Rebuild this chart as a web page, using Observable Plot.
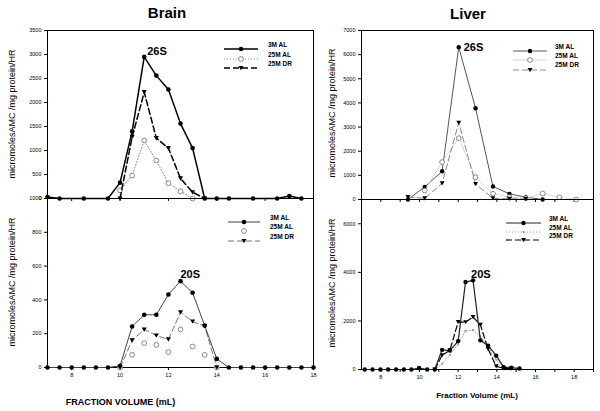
<!DOCTYPE html>
<html><head><meta charset="utf-8">
<script src="https://cdn.jsdelivr.net/npm/d3@7"></script>
<script src="https://cdn.jsdelivr.net/npm/@observablehq/plot@0.6"></script>
<style>
body{margin:0;background:#fff;}
#wrap{position:relative;width:600px;height:411px;overflow:hidden;font-family:"Liberation Sans",Arial,sans-serif;background:#fff;}
#wrap > svg{position:absolute;left:0;top:0;}
.t{position:absolute;white-space:nowrap;color:#000;line-height:1;}
.lg{position:absolute;}
</style></head><body><div id="wrap"></div><script>
// ---------- DATA ----------
// Brain 26S
const brainX26_3M = [7,7.5,8.5,9.5,10,10.5,11,11.5,12,12.5,13,13.5,14,14.5,15.5,16.5,17,17.5];
const brain26_3M  = [30,0,0,0,330,1400,2950,2560,2270,1560,1050,0,0,0,0,0,50,0];
const brainX26_AL = [10,10.5,11,11.5,12,12.5,13];
const brain26_AL  = [170,480,1210,790,320,150,0];
const brainX26_DR = [10,10.5,11,11.5,12,12.5,13,13.5];
const brain26_DR  = [0,1280,2215,1257,1050,420,130,0];
// Brain 20S
const brainX20_3M = [7,7.5,8,8.5,9,9.5,10,10.5,11,11.5,12,12.5,13,13.5,14,14.5,15,15.5,16,16.5,17,17.5,18];
const brain20_3M  = [0,0,0,0,0,0,10,243,312,312,432,511,442,248,51,0,0,0,0,0,0,0,0];
const brainX20_25 = [10,10.5,11,11.5,12,12.5,13,13.5,14];
const brain20_AL  = [0,75,144,134,91,225,124,75,0];
const brain20_DR  = [0,160,225,189,166,327,272,245,0];
// Liver 26S
const liverX26_3M = [9.4,10.27,11.17,12.03,12.9,13.8,14.65,15.5,16.37];
const liver26_3M  = [0,520,1170,6310,3780,540,235,95,0];
const liverX26_AL = [10.27,11.17,12.03,12.9,13.8,14.65,15.5,16.37,17.23,18.1];
const liver26_AL  = [370,1550,2540,925,235,100,50,250,95,0];
const liverX26_DR = [9.4,10.27,11.17,12.03,12.9,13.8,14.65,15.5];
const liver26_DR  = [100,50,670,3180,640,50,30,20];
// Liver 20S
const liverX20_3M = [7.17,7.57,7.98,8.38,8.79,9.19,9.58,9.98,10.4,10.79,11.17,11.57,12.0,12.38,12.77,13.15,13.55,13.97,14.35,14.75,15.17];
const liver20_3M  = [0,0,0,0,0,0,0,60,0,0,810,780,1170,3600,3670,1200,980,570,95,75,40];
const liverX20_AL = [10.79,11.17,11.57,12.0,12.38,12.77,13.15,13.55,13.97,14.35];
const liver20_AL  = [0,240,600,1050,1590,1620,1360,900,400,100];
const liverX20_DR = [10.79,11.17,11.57,12.0,12.38,12.77,13.15,13.55,13.97,14.35,14.75];
const liver20_DR  = [0,590,790,1960,1950,2160,1840,840,130,50,40];
// Ticks & labels
const brainTopYTicks = [0,500,1000,1500,2000,2500,3000,3500];
const brainBotYTicks = [0,200,400,600,800,1000];
const liverTopYTicks = [0,1000,2000,3000,4000,5000,6000,7000];
const liverBotYTicks = [0,2000,4000,6000];
const brainXTicks = [8,10,12,14,16,18];
const liverXTicks = [8,10,12,14,16,18];
const liverXMinor = [8,9,10,11,12,13,14,15,16,17,18,19];
const seriesNames = ["3M AL","25M AL","25M DR"];
const titles = ["Brain","Liver"];
const xLabels = ["FRACTION VOLUME (mL)","Fraction Volume (mL)"];
const yLabel = "micromolesAMC /mg protein/HR";
const peakLabels = ["26S","20S"];

// ---------- HELPERS ----------
const rows = (xs, ys) => xs.map((x, i) => ({x, y: ys[i]}));
const triDown = {draw(ctx, size) {
  const r = Math.sqrt(size / Math.PI);
  const w = r * 1.15, h = r * 0.95;
  ctx.moveTo(-w, -h); ctx.lineTo(w, -h); ctx.lineTo(0, h * 1.1); ctx.closePath();
}};
const FONT = '"Liberation Sans", Arial, sans-serif';
const wrap = document.getElementById("wrap");

function seriesMarks(data, s) {
  const m = [];
  if (s.line) m.push(Plot.line(data, {x: "x", y: "y", stroke: s.line, strokeWidth: s.lw ?? 1, strokeDasharray: s.dash}));
  m.push(Plot.dot(data, {x: "x", y: "y", symbol: s.symbol, r: s.r ?? 2.4, fill: s.fill, stroke: s.stroke ?? "none", strokeWidth: s.sw ?? 1}));
  return m;
}

function panel(o) {
  const marks = [Plot.frame({stroke: "#000", strokeWidth: 1})];
  if (o.minor) marks.push(Plot.tickX(o.minor, {x: d => d, y1: o.yDomain[0], y2: o.yDomain[0], stroke: "none"}));
  for (const [data, s] of o.series) marks.push(...seriesMarks(data, s));
  if (o.peak) marks.push(Plot.text(o.peak.data, Plot.selectMaxY({x: "x", y: "y", text: () => o.peak.label,
    textAnchor: "start", dx: o.peak.dx, dy: o.peak.dy, fontSize: 11, fontWeight: "bold", fill: "#000"})));
  const svg = Plot.plot({
    width: 600, height: 411,
    marginLeft: o.left, marginRight: 600 - o.right, marginTop: o.top, marginBottom: 411 - o.bottom,
    x: {domain: o.xDomain, ticks: o.xTicks, tickSize: 3, tickPadding: 3, label: null,
        tickFormat: o.xText ? (d => String(d)) : (() => "")},
    y: {domain: o.yDomain, ticks: o.yTicks, tickSize: 3, tickPadding: 3, label: null, tickFormat: d => String(d)},
    style: {background: "transparent", fontFamily: FONT, fontSize: "5.5px", color: "#000", overflow: "visible"},
    marks
  });
  wrap.appendChild(svg);
}

function legend(items, x0, x1, labelX, ys) {
  items.forEach((s, i) => {
    const w = x1 - x0, y = ys[i];
    const d = document.createElement("div");
    d.className = "lg";
    d.style.left = x0 + "px"; d.style.top = (y - 5) + "px";
    const ns = "http://www.w3.org/2000/svg";
    const sv = document.createElementNS(ns, "svg");
    sv.setAttribute("width", w); sv.setAttribute("height", 10);
    if (s.line) {
      const ln = document.createElementNS(ns, "line");
      ln.setAttribute("x1", 0); ln.setAttribute("x2", w); ln.setAttribute("y1", 5); ln.setAttribute("y2", 5);
      ln.setAttribute("stroke", s.line); ln.setAttribute("stroke-width", s.lw ?? 1);
      if (s.dash) ln.setAttribute("stroke-dasharray", s.dash);
      sv.appendChild(ln);
    }
    const g = document.createElementNS(ns, "path");
    const r = s.r ?? 2.4;
    const p = d3.path();
    const sym = typeof s.symbol === "string" ? d3.symbolCircle : s.symbol;
    sym.draw(p, Math.PI * r * r);
    g.setAttribute("d", p.toString());
    g.setAttribute("transform", `translate(${w / 2},5)`);
    g.setAttribute("fill", s.fill); g.setAttribute("stroke", s.stroke ?? "none"); g.setAttribute("stroke-width", s.sw ?? 1);
    sv.appendChild(g);
    d.appendChild(sv);
    wrap.appendChild(d);
    const t = document.createElement("div");
    t.className = "t"; t.textContent = seriesNames[i];
    t.style.left = labelX + "px"; t.style.top = (y - 3.5) + "px"; t.style.fontSize = "6.5px"; t.style.fontWeight = "bold";
    wrap.appendChild(t);
  });
}

function text(str, x, y, size, weight, rotate) {
  const t = document.createElement("div");
  t.className = "t"; t.textContent = str;
  t.style.left = x + "px"; t.style.top = y + "px"; t.style.fontSize = size + "px"; t.style.fontWeight = weight;
  t.style.transform = `translate(-50%,-50%)${rotate ? " rotate(-90deg)" : ""}`;
  wrap.appendChild(t);
}

// ---------- STYLES ----------
const bT = [
  {line: "#000", lw: 1.5, symbol: "circle", fill: "#000", r: 2.3},
  {line: "#888", lw: 1, dash: "1,2", symbol: "circle", fill: "#fff", stroke: "#888", r: 2.4},
  {line: "#000", lw: 1.5, dash: "6,3", symbol: triDown, fill: "#000", r: 2.2}
];
const bB = [
  {line: "#444", lw: 1, symbol: "circle", fill: "#000", r: 2.3},
  {line: "#e4e4e4", lw: 0.8, dash: "1,2", symbol: "circle", fill: "#fff", stroke: "#888", r: 2.4},
  {line: "#777", lw: 1, dash: "6,3", symbol: triDown, fill: "#000", r: 2.2}
];
const lT = [
  {line: "#555", lw: 1, symbol: "circle", fill: "#000", r: 2.2},
  {line: "#ccc", lw: 0.8, symbol: "circle", fill: "#fff", stroke: "#888", r: 2.4},
  {line: "#888", lw: 1, dash: "6,3", symbol: triDown, fill: "#000", r: 2.1}
];
const lB = [
  {line: "#222", lw: 1.2, symbol: "circle", fill: "#000", r: 2.2},
  {line: "#999", lw: 1, dash: "1,2", symbol: "circle", fill: "#999", r: 1.1},
  {line: "#000", lw: 1.2, dash: "6,3", symbol: triDown, fill: "#000", r: 2.1}
];

// ---------- PANELS ----------
const b26 = rows(brainX26_3M, brain26_3M);
panel({left: 47, right: 313, top: 30, bottom: 198, xDomain: [7, 18], yDomain: [0, 3500],
  xTicks: brainXTicks, yTicks: brainTopYTicks, xText: false,
  series: [[b26, bT[0]], [rows(brainX26_AL, brain26_AL), bT[1]], [rows(brainX26_DR, brain26_DR), bT[2]]],
  peak: {data: b26, label: peakLabels[0], dx: 3, dy: -5}});
const b20 = rows(brainX20_3M, brain20_3M);
panel({left: 47, right: 313, top: 198, bottom: 367, xDomain: [7, 18], yDomain: [0, 1000],
  xTicks: brainXTicks, yTicks: brainBotYTicks, xText: true,
  series: [[rows(brainX20_25, brain20_AL), bB[1]], [rows(brainX20_25, brain20_DR), bB[2]], [b20, bB[0]]],
  peak: {data: b20, label: peakLabels[1], dx: 0, dy: -7}});
const l26 = rows(liverX26_3M, liver26_3M);
panel({left: 361, right: 593, top: 30, bottom: 199, xDomain: [7, 19], yDomain: [0, 7000],
  xTicks: liverXMinor, yTicks: liverTopYTicks, xText: false,
  series: [[l26, lT[0]], [rows(liverX26_AL, liver26_AL), lT[1]], [rows(liverX26_DR, liver26_DR), lT[2]]],
  peak: {data: l26, label: peakLabels[0], dx: 5, dy: 0}});
const l20 = rows(liverX20_3M, liver20_3M);
panel({left: 361, right: 593, top: 199, bottom: 369, xDomain: [7, 19], yDomain: [0, 7000],
  xTicks: liverXMinor, yTicks: liverBotYTicks, xText: true,
  series: [[rows(liverX20_AL, liver20_AL), lB[1]], [rows(liverX20_DR, liver20_DR), lB[2]], [l20, lB[0]]],
  peak: {data: l20, label: peakLabels[1], dx: -2, dy: -6}});

// liver bottom x labels only at even ticks: hide odd labels
wrap.querySelectorAll("svg").forEach((svg, i) => {
  if (i === 3) svg.querySelectorAll("[aria-label='x-axis tick label'] text").forEach(t => {
    if (+t.textContent % 2 === 1) t.textContent = "";
  });
});

// ---------- LEGENDS ----------
legend(bT, 224, 258, 268, [45, 55, 64]);
legend([bB[0], {...bB[1], line: null}, bB[2]], 228, 260, 270, [218, 227, 237]);
legend(lT, 513, 547, 555, [47, 56, 65.5]);
legend(lB, 506, 541, 549, [219, 228, 236]);

// ---------- TEXT ----------
text(titles[0], 167, 12, 15, "bold");
text(titles[1], 468, 13, 15, "bold");
text(xLabels[0], 120.5, 402, 9, "bold");
text(xLabels[1], 477, 396, 8, "bold");
text(yLabel, 12, 114, 9, "normal", true);
text(yLabel, 12, 282, 9, "normal", true);
text(yLabel, 332, 113, 9, "normal", true);
text(yLabel, 332, 283, 9, "normal", true);
</script></body></html>
